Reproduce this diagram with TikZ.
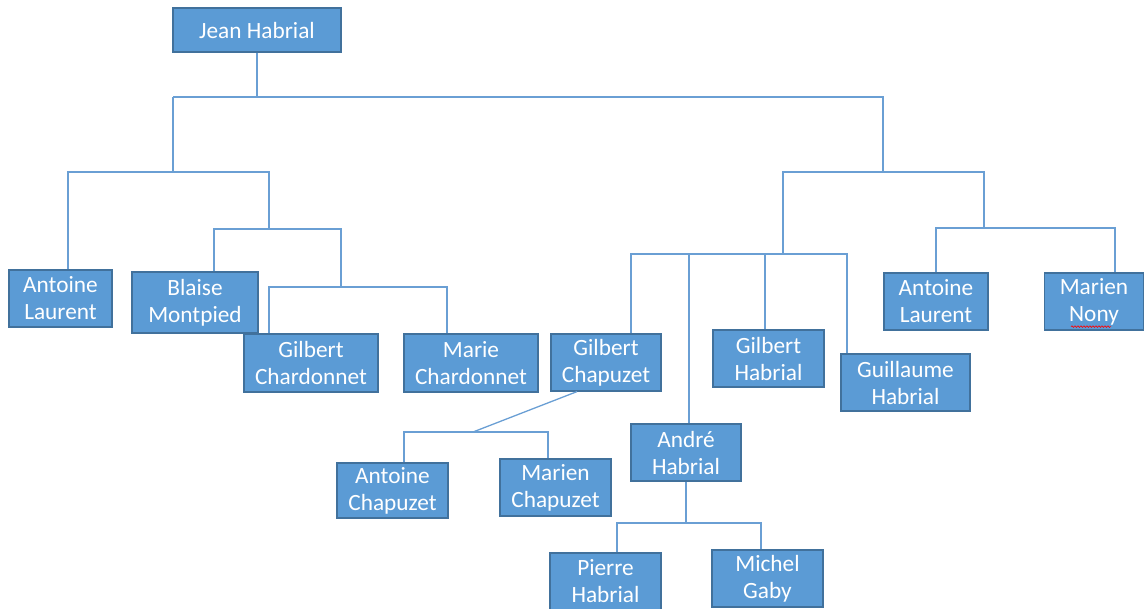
\documentclass[tikz,border=0pt]{standalone}
\usepackage{fontspec}
\setmainfont{Carlito}
\usetikzlibrary{decorations.pathmorphing}

\definecolor{boxFill}{HTML}{5B9BD5}
\definecolor{boxBorder}{HTML}{41719C}
\definecolor{linkColour}{HTML}{6A9FD4}

\newcommand{\personfont}{\fontsize{23.3}{27}\selectfont}

\tikzset{
    person/.style={draw=boxBorder, line width=1.2pt, fill=boxFill, text=white,
        align=center, inner sep=0pt, minimum height=57pt, font=\personfont},
    link/.style={draw=linkColour, line width=1.3pt}
}

\begin{document}
\begin{tikzpicture}[x=1pt, y=-1pt]
    \useasboundingbox (0,0) rectangle (1145,608);

    % People
    \node[person, minimum width=168pt, minimum height=44pt] (jean) at (257,30) {Jean Habrial};

    \node[person, minimum width=103pt] (antoineL) at (60.5,298.5) {Antoine\\Laurent};
    \node[person, minimum width=126pt, minimum height=61pt] (blaise) at (195,302.5) {Blaise\\Montpied};
    \node[person, minimum width=134pt, minimum height=58pt] (gilbertCh) at (311,363) {Gilbert\\Chardonnet};
    \node[person, minimum width=134pt, minimum height=58pt] (marieCh) at (471,363) {Marie\\Chardonnet};

    \node[person, minimum width=110pt] (gilbertCz) at (606,362.5) {Gilbert\\Chapuzet};
    \node[person, minimum width=110pt] (andre) at (686,452.5) {André\\Habrial};
    \node[person, minimum width=111pt] (gilbertH) at (768.5,358.5) {Gilbert\\Habrial};
    \node[person, minimum width=129pt] (guillaume) at (905.5,382.5) {Guillaume\\Habrial};
    \node[person, minimum width=104pt] (antoineR) at (936,301.5) {Antoine\\Laurent};
    \node[person, minimum width=99pt] (marien) at (1094,301.5) {Marien\\Nony};

    \node[person, minimum width=111pt, minimum height=55pt] (antoineCz) at (392.5,490.5) {Antoine\\Chapuzet};
    \node[person, minimum width=111pt] (marienCz) at (555.5,487.5) {Marien\\Chapuzet};
    \node[person, minimum width=111pt] (pierre) at (605.5,581.5) {Pierre\\Habrial};
    \node[person, minimum width=111pt] (michel) at (767.5,578.5) {Michel\\Gaby};

    % Junctions
    \coordinate (jTop) at (173,97);
    \coordinate (jLeft) at (173,172);
    \coordinate (jMid) at (269,229);
    \coordinate (jLow) at (341,287);
    \coordinate (jRight) at (883,172);
    \coordinate (jSons) at (783,254);
    \coordinate (jPair) at (984,228);
    \coordinate (jCz) at (473,432);
    \coordinate (jAndre) at (686,523);

    % Left branch
    \draw[link] (jean.south) -- (jean.south |- jTop);
    \draw[link] (jTop) -| (jRight);
    \draw[link] (jTop) -- (jLeft);
    \draw[link] ([xshift=7.5pt]antoineL.north) |- (jLeft) -| (jMid);
    \draw[link] ([xshift=19pt]blaise.north) |- (jMid) -| (jLow);
    \draw[link] ([xshift=-42pt]gilbertCh.north) |- (jLow) -| ([xshift=-24pt]marieCh.north);

    % Right branch
    \draw[link] (jSons) |- (jRight) -| (jPair);
    \draw[link] ([xshift=25pt]gilbertCz.north) |- (jSons) -| ([xshift=-58.5pt]guillaume.north);
    \draw[link] ([xshift=3pt]andre.north) -- ([xshift=3pt]andre.north |- jSons);
    \draw[link] ([xshift=-3.5pt]gilbertH.north) -- ([xshift=-3.5pt]gilbertH.north |- jSons);
    \draw[link] (antoineR.north) |- (jPair) -| ([xshift=21pt]marien.north);

    % Grandchildren
    \draw[link] ([xshift=-29pt]gilbertCz.south) -- (jCz);
    \draw[link] ([xshift=11.5pt]antoineCz.north) |- (jCz) -| ([xshift=-7.5pt]marienCz.north);
    \draw[link] (andre.south) -- (jAndre);
    \draw[link] ([xshift=11.5pt]pierre.north) |- (jAndre) -| ([xshift=-6.5pt]michel.north);

    % Spell-check mark under Nony
    \draw[red, line width=0.6pt, decorate, decoration={snake, amplitude=0.8pt, segment length=3pt}]
        ([xshift=-23pt,yshift=4pt]marien.south) -- ([xshift=17pt,yshift=4pt]marien.south);

\end{tikzpicture}
\end{document}
